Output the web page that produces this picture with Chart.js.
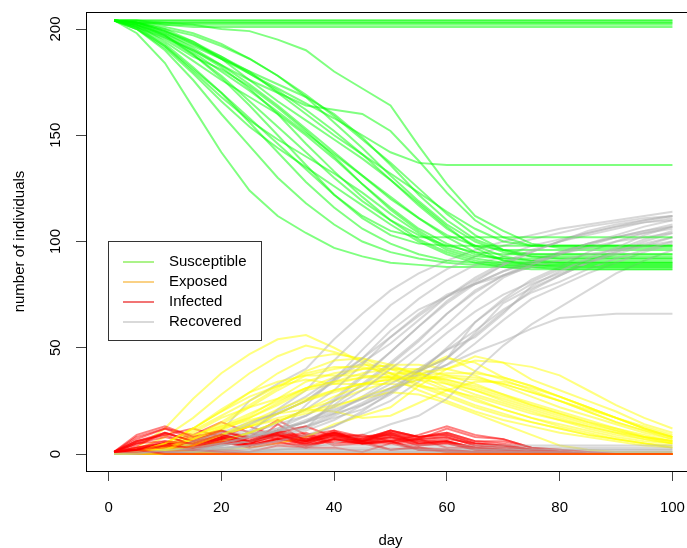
<!DOCTYPE html>
<html>
<head>
<meta charset="utf-8">
<title>SEIR runs</title>
<script src="https://cdn.jsdelivr.net/npm/chart.js@4.4.1/dist/chart.umd.min.js"></script>
<style>
  html, body { margin: 0; padding: 0; background: #fff; overflow: hidden; }
  #wrap { width: 700px; height: 556px; }
</style>
</head>
<body>
<div id="wrap"><canvas id="seir" width="700" height="556"></canvas></div>
<script>
/* =====================================================
   Stochastic SEIR simulation: 28 runs, 100 days
   S / E / I / R trajectories
   ===================================================== */

// ---- Data ----
const DAYS = [1, 5, 10, 15, 20, 25, 30, 35, 40, 45, 50, 55, 60, 65, 70, 75, 80, 85, 90, 95, 100];

const X_TICKS = [0, 20, 40, 60, 80, 100];
const Y_TICKS = [0, 50, 100, 150, 200];

const LEGEND_LABELS = ['Susceptible', 'Exposed', 'Infected', 'Recovered'];

// one row per run (22 outbreaks, then 6 runs that died out)
const S_RUNS = [
  [204,198,184,163,142,124,112,104,97,93,90,89,88,88,88,88,88,88,88,88,88],
  [204,200,190,176,160,145,130,118,108,100,95,92,90,89,89,89,89,89,89,89,89],
  [204,201,193,182,170,156,142,128,116,106,99,94,91,90,90,90,90,90,90,90,90],
  [204,202,196,188,178,166,154,142,130,119,110,103,98,95,94,94,94,94,94,94,94],
  [204,203,198,191,183,174,164,153,142,131,120,111,103,98,96,96,96,96,96,96,96],
  [204,202,194,185,176,168,160,150,139,127,115,105,97,93,92,92,92,92,92,92,92],
  [204,203,199,194,187,179,171,162,152,141,129,117,106,98,93,91,90,90,90,90,90],
  [204,203,200,197,192,186,178,169,159,148,137,125,113,103,96,93,92,92,92,92,92],
  [204,203,199,193,186,179,172,165,158,150,142,137,136,136,136,136,136,136,136,136,136],
  [204,204,203,202,200,199,195,190,180,172,164,145,127,112,105,99,97,97,97,97,97],
  [204,201,195,187,181,173,163,152,140,127,116,106,99,94,92,91,91,91,91,91,91],
  [204,202,197,190,183,176,170,164,162,160,152,138,123,110,102,98,98,98,98,98,98],
  [204,200,192,180,168,157,148,140,132,123,113,104,96,92,90,89,89,89,89,89,89],
  [204,203,197,188,177,164,150,136,122,111,103,99,98,98,98,98,98,98,98,98,98],
  [204,202,198,192,186,180,174,168,160,149,136,122,110,101,96,94,94,94,94,94,94],
  [204,201,196,190,182,172,160,146,133,121,110,101,95,91,89,88,87,87,87,87,87],
  [204,203,201,198,193,186,178,168,156,144,131,119,108,100,95,93,93,93,93,93,93],
  [204,201,192,181,170,158,146,134,122,112,105,102,102,102,102,102,102,102,102,102,102],
  [204,203,199,193,187,180,170,160,150,141,132,123,114,106,100,98,98,98,98,98,98],
  [204,200,191,179,166,154,144,135,126,117,108,100,94,90,88,87,87,87,87,87,87],
  [204,203,200,194,186,176,166,157,148,139,129,118,107,97,91,89,88,88,88,88,88],
  [204,202,197,189,180,171,161,151,141,131,121,111,102,95,91,90,90,90,90,90,90],
  [204,204,204,204,204,204,204,204,204,204,204,204,204,204,204,204,204,204,204,204,204],
  [204,203,203,203,203,203,203,203,203,203,203,203,203,203,203,203,203,203,203,203,203],
  [204,204,202,202,202,202,202,202,202,202,202,202,202,202,202,202,202,202,202,202,202],
  [204,203,202,201,201,201,201,201,201,201,201,201,201,201,201,201,201,201,201,201,201],
  [204,204,204,204,204,204,204,204,204,204,204,204,204,204,204,204,204,204,204,204,204],
  [204,203,203,203,203,203,203,203,203,203,203,203,203,203,203,203,203,203,203,203,203]
];

const E_RUNS = [
  [0,3,12,26,38,47,54,56,50,43,36,30,25,20,16,13,10,8,6,4,3],
  [0,2,8,17,28,38,46,51,48,44,38,32,27,22,18,15,12,9,7,5,4],
  [0,1,5,12,20,29,38,45,47,45,40,35,30,25,21,17,14,11,8,6,5],
  [0,0,3,8,14,22,30,37,40,42,41,38,33,28,24,20,16,12,9,7,5],
  [0,0,2,6,11,17,24,31,36,40,42,42,40,37,32,27,22,18,14,10,7],
  [0,0,4,10,17,22,26,31,34,38,40,40,37,33,28,23,19,15,11,8,6],
  [0,0,2,5,9,14,19,25,29,33,37,40,46,39,35,30,25,20,15,11,8],
  [0,0,1,3,6,10,15,21,25,30,34,37,38,38,36,32,27,22,17,12,8],
  [0,0,2,5,9,13,17,20,23,26,29,28,24,19,14,9,4,2,1,1,1],
  [0,0,1,1,2,3,5,8,14,18,22,32,40,44,43,41,37,30,23,17,12],
  [0,1,4,9,13,17,23,30,33,36,38,38,35,31,27,23,19,15,12,9,6],
  [0,1,3,7,12,16,19,21,20,17,18,24,30,34,34,31,27,22,17,12,8],
  [0,1,5,12,20,27,32,35,33,33,33,32,30,27,23,19,16,13,10,7,5],
  [0,0,3,8,15,23,31,39,44,45,42,37,31,26,21,17,13,10,7,5,3],
  [0,0,2,5,9,13,16,19,22,27,31,35,37,36,33,29,25,21,17,13,9],
  [0,1,3,7,12,18,26,34,38,40,40,38,34,30,25,21,17,13,10,8,6],
  [0,0,1,3,6,10,15,21,27,32,36,39,45,43,36,32,27,22,17,12,8],
  [0,1,5,11,18,25,32,38,41,41,38,33,28,23,19,15,12,9,7,5,3],
  [0,0,2,5,9,13,19,25,30,33,35,36,36,35,33,29,25,20,15,11,7],
  [0,1,5,12,21,29,34,37,37,37,36,35,33,30,26,22,18,14,11,8,6],
  [0,0,1,4,9,15,21,26,30,33,35,38,40,46,43,35,30,25,20,14,10],
  [0,0,2,7,13,19,25,31,34,36,36,36,35,32,28,24,20,16,12,8,5],
  [0,0,0,0,0,0,0,0,0,0,0,0,0,0,0,0,0,0,0,0,0],
  [0,1,0,0,0,0,0,0,0,0,0,0,0,0,0,0,0,0,0,0,0],
  [0,0,2,1,0,0,0,0,0,0,0,0,0,0,0,0,0,0,0,0,0],
  [0,1,2,1,0,0,0,0,0,0,0,0,0,0,0,0,0,0,0,0,0],
  [0,0,0,0,0,0,0,0,0,0,0,0,0,0,0,0,0,0,0,0,0],
  [0,0,0,0,0,0,0,0,0,0,0,0,0,0,0,0,0,0,0,0,0]
];

const I_RUNS = [
  [1,8,12,9,15,10,7,9,4,5,2,3,1,1,0,0,0,0,0,0,0],
  [1,6,9,12,8,13,8,10,5,6,2,3,1,1,0,0,0,0,0,0,0],
  [1,5,10,6,11,8,16,9,11,5,6,3,2,1,1,0,0,0,0,0,0],
  [1,3,6,4,9,6,11,7,10,6,8,4,5,2,1,0,0,0,0,0,0],
  [1,2,5,3,7,5,9,6,10,6,9,5,6,3,2,1,0,0,0,0,0],
  [1,4,10,6,8,4,7,5,9,6,10,5,6,2,1,1,0,0,0,0,0],
  [1,2,4,3,7,5,8,6,10,7,11,8,9,5,4,2,1,0,0,0,0],
  [1,2,4,2,5,4,7,5,9,7,11,8,10,6,6,3,2,1,0,0,0],
  [1,3,5,3,6,4,7,4,6,5,6,2,2,1,1,0,0,0,0,0,0],
  [1,1,2,1,2,1,4,3,7,5,6,9,13,9,7,3,2,1,0,0,0],
  [1,5,8,5,7,4,14,6,11,8,9,6,6,3,2,1,0,0,0,0,0],
  [1,2,5,4,8,4,6,3,3,1,5,7,12,8,7,3,1,0,0,0,0],
  [1,7,12,7,10,8,9,4,7,5,8,5,6,3,2,1,0,0,0,0,0],
  [1,2,5,4,8,6,11,8,10,6,6,2,2,1,0,0,0,0,0,0,0],
  [1,3,5,3,6,3,5,4,7,6,11,8,9,5,4,2,1,0,0,0,0],
  [1,6,9,4,8,6,10,13,8,9,6,7,3,3,2,1,1,0,0,0,0],
  [1,2,3,2,5,4,7,6,10,8,10,7,8,4,3,2,1,0,0,0,0],
  [1,6,10,6,9,6,10,7,9,5,5,2,1,0,0,0,0,0,0,0,0],
  [1,2,4,3,6,5,9,6,8,6,8,6,7,5,4,2,1,0,0,0,0],
  [1,9,13,8,11,7,9,5,7,5,7,4,5,2,2,1,0,0,0,0,0],
  [1,2,4,3,7,6,9,6,8,6,10,8,10,6,5,2,1,0,0,0,0],
  [1,5,6,5,9,6,10,7,9,7,9,7,8,4,3,2,1,0,0,0,0],
  [1,1,0,0,0,0,0,0,0,0,0,0,0,0,0,0,0,0,0,0,0],
  [1,1,1,0,0,0,0,0,0,0,0,0,0,0,0,0,0,0,0,0,0],
  [1,2,1,1,0,0,0,0,0,0,0,0,0,0,0,0,0,0,0,0,0],
  [1,1,1,2,1,0,0,0,0,0,0,0,0,0,0,0,0,0,0,0,0],
  [1,0,0,0,0,0,0,0,0,0,0,0,0,0,0,0,0,0,0,0,0],
  [1,2,0,0,0,0,0,0,0,0,0,0,0,0,0,0,0,0,0,0,0]
];

const R_RUNS = [
  [0,0,0,6,11,25,33,40,54,66,77,85,91,96,100,103,106,108,110,112,114],
  [0,0,0,4,8,10,21,30,44,57,70,79,87,93,98,101,104,107,109,111,112],
  [0,0,0,4,7,10,10,23,35,49,62,73,82,89,93,98,101,104,107,109,110],
  [0,0,2,3,6,9,12,18,26,37,48,60,71,80,86,91,95,99,102,104,106],
  [0,0,1,3,6,8,10,13,19,27,35,46,57,67,75,81,87,91,95,99,102],
  [0,0,0,3,6,10,14,18,25,32,42,53,66,76,84,89,94,98,102,105,107],
  [0,0,1,2,4,6,9,11,16,23,30,39,45,62,73,82,88,95,100,104,107],
  [0,0,1,2,3,4,6,8,13,19,25,34,45,56,67,77,84,90,96,101,105],
  [0,0,0,2,5,8,11,15,19,23,29,37,42,48,53,59,64,65,66,66,66],
  [0,0,0,1,1,1,2,3,5,9,14,18,26,39,51,61,69,77,85,91,96],
  [0,0,0,3,6,9,12,15,23,33,43,54,66,77,84,90,95,99,102,105,108],
  [0,0,1,2,4,8,11,16,21,26,31,35,42,52,63,73,79,85,90,95,99],
  [0,0,0,5,9,11,19,25,35,43,52,63,74,83,90,96,100,103,106,109,111],
  [0,0,1,3,6,10,15,21,30,42,55,66,75,80,86,90,94,97,100,102,104],
  [0,0,1,3,5,8,11,13,17,21,28,38,50,62,72,80,85,90,94,98,102],
  [0,0,0,3,5,8,11,12,25,36,48,60,72,81,89,95,100,105,108,110,112],
  [0,0,1,1,2,4,6,9,13,20,29,39,45,57,71,78,84,90,95,100,104],
  [0,0,0,6,10,15,19,25,34,45,58,68,74,80,84,88,91,94,96,98,100],
  [0,0,1,2,4,6,9,12,18,24,31,39,49,58,68,76,81,87,92,96,100],
  [0,0,0,5,9,14,20,27,36,45,55,65,74,82,89,95,100,104,107,110,112],
  [0,0,1,2,4,6,11,15,20,26,33,40,49,55,66,79,86,92,97,103,107],
  [0,0,1,3,5,8,11,15,22,30,40,50,61,73,83,89,94,99,103,107,110],
  [0,0,1,1,1,1,1,1,1,1,1,1,1,1,1,1,1,1,1,1,1],
  [0,0,1,2,2,2,2,2,2,2,2,2,2,2,2,2,2,2,2,2,2],
  [0,0,0,1,3,3,3,3,3,3,3,3,3,3,3,3,3,3,3,3,3],
  [0,0,1,1,3,4,4,4,4,4,4,4,4,4,4,4,4,4,4,4,4],
  [0,1,1,1,1,1,1,1,1,1,1,1,1,1,1,1,1,1,1,1,1],
  [0,0,2,2,2,2,2,2,2,2,2,2,2,2,2,2,2,2,2,2,2]
];

// ---- Styling ----
const LINE_COLORS   = ['rgba(0,255,0,0.5)', 'rgba(255,255,0,0.5)', 'rgba(255,0,0,0.5)', 'rgba(178,178,178,0.5)'];
const LEGEND_COLORS = ['#8fef62', '#f8c25c', '#ee4646', '#cdcdcd'];

Chart.defaults.font.family = '"Liberation Sans", Arial, Helvetica, sans-serif';
Chart.defaults.font.size = 15;
Chart.defaults.color = '#000';

// ---- Datasets: run by run, S then E then I then R (later runs on top) ----
const COMPARTMENTS = [S_RUNS, E_RUNS, I_RUNS, R_RUNS];
const datasets = [];
S_RUNS.forEach((_, run) => {
  COMPARTMENTS.forEach((runs, c) => {
    datasets.push({
      data: DAYS.map((d, i) => ({ x: d, y: runs[run][i] })),
      borderColor: LINE_COLORS[c],
      borderWidth: 2,
      pointRadius: 0,
      tension: 0,
      fill: false
    });
  });
});
// chart.js paints the lowest order last, so count down
datasets.forEach((ds, k) => { ds.order = datasets.length - k; });

// ---- Plot frame (R draws a full box) ----
const frameBox = {
  id: 'frameBox',
  afterDraw(chart) {
    const { ctx, chartArea: a } = chart;
    ctx.save();
    ctx.strokeStyle = '#000';
    ctx.lineWidth = 1;
    ctx.strokeRect(Math.round(a.left) + 0.5, Math.round(a.top) + 0.5,
                   Math.round(a.right - a.left), Math.round(a.bottom - a.top));
    ctx.restore();
  }
};

// ---- Legend box in the middle left ----
const legendBox = {
  id: 'legendBox',
  afterDraw(chart) {
    const ctx = chart.ctx;
    ctx.save();
    ctx.fillStyle = '#fff';
    ctx.fillRect(108.5, 241.5, 153, 99);
    ctx.strokeStyle = '#333';
    ctx.lineWidth = 1;
    ctx.strokeRect(108.5, 241.5, 153, 99);
    ctx.font = '15px "Liberation Sans", Arial, sans-serif';
    ctx.textBaseline = 'middle';
    ctx.textAlign = 'left';
    LEGEND_LABELS.forEach((label, i) => {
      const y = 262 + i * 20;
      ctx.strokeStyle = LEGEND_COLORS[i];
      ctx.lineWidth = 1.5;
      ctx.beginPath();
      ctx.moveTo(123, y);
      ctx.lineTo(154, y);
      ctx.stroke();
      ctx.fillStyle = '#000';
      ctx.fillText(label, 169, y);
    });
    ctx.restore();
  }
};

new Chart(document.getElementById('seir'), {
  type: 'line',
  data: { datasets },
  options: {
    responsive: false,
    animation: false,
    devicePixelRatio: 1,
    layout: { padding: { top: 12, right: 5, left: 0, bottom: 0 } },
    plugins: { legend: { display: false }, tooltip: { enabled: false } },
    scales: {
      x: {
        type: 'linear',
        min: -4,
        max: 104,
        bounds: 'data',
        afterBuildTicks: s => { s.ticks = X_TICKS.map(v => ({ value: v })); },
        ticks: { padding: 18, maxRotation: 0, color: '#000' },
        grid: { drawOnChartArea: false, drawTicks: true, tickLength: 10, color: '#444' },
        border: { display: false },
        title: { display: true, text: 'day', color: '#000', padding: { top: 0, bottom: 6 } },
        afterFit: s => { s.height = 85; s.paddingLeft = 0; s.paddingRight = 0; }
      },
      y: {
        type: 'linear',
        min: -8,
        max: 208,
        bounds: 'data',
        afterBuildTicks: s => { s.ticks = Y_TICKS.map(v => ({ value: v })); },
        ticks: { minRotation: 90, maxRotation: 90, crossAlign: 'center', padding: 8, color: '#000' },
        grid: { drawOnChartArea: false, drawTicks: true, tickLength: 10, color: '#444' },
        border: { display: false },
        title: { display: true, text: 'number of individuals', color: '#000', padding: { top: 11, bottom: 0 } },
        afterFit: s => { s.width = 86; s.paddingTop = 0; s.paddingBottom = 0; }
      }
    }
  },
  plugins: [frameBox, legendBox]
});
</script>
</body>
</html>
